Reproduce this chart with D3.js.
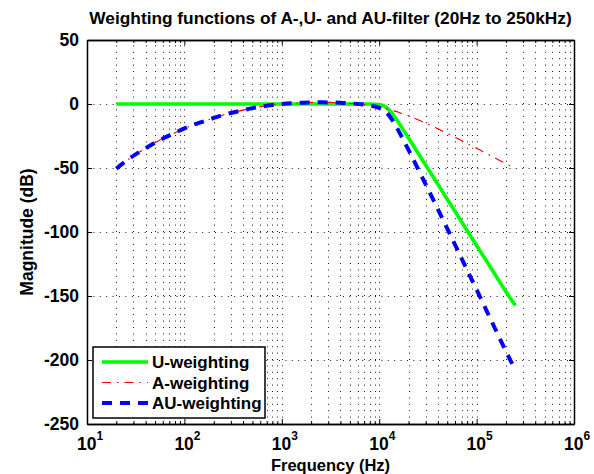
<!DOCTYPE html>
<html>
<head>
<meta charset="utf-8">
<script src="https://cdn.jsdelivr.net/npm/d3@7"></script>
<style>
	body { margin: 0; background: #fff; }
	svg { display: block; }
	text { font-family: "Liberation Sans", Arial, sans-serif; font-weight: bold; fill: #000; }
	.axis path, .axis line { stroke: #000; }
</style>
</head>
<body>
<svg id="chartsvg"></svg>
<script>
// Values (frequency in Hz, magnitude in dB)
var freqHz = [20, 25, 31.5, 40, 50, 63, 80, 100, 125, 160, 200, 250, 315, 400, 500, 630, 800,
	1000, 1250, 1600, 2000, 2500, 3150, 4000, 5000, 6300, 8000, 10000, 11000, 12500, 14000,
	16000, 18000, 20000, 25000, 31500, 40000, 50000, 63000, 80000, 100000, 125000, 160000,
	200000, 250000];

var uWeight = [0, 0, 0, 0, 0, 0, 0, 0, 0, 0, 0, 0, 0, 0, 0, 0, 0,
	0, 0, 0, 0, 0, 0, 0, 0, 0, 0, -0.5, -1.3, -4.2, -8.7,
	-15.1, -21.2, -26.6, -38.3, -50.3, -62.7, -74.4, -86.4, -98.9, -110.5, -122.1, -135.0,
	-146.6, -157.5];

var aWeight = [-50.5, -44.7, -39.4, -34.6, -30.2, -26.2, -22.5, -19.1, -16.1, -13.4, -10.9, -8.6, -6.6, -4.8, -3.2, -1.9, -0.8,
	0, 0.6, 1.0, 1.2, 1.3, 1.2, 1.0, 0.5, -0.1, -1.1, -2.5, -3.2, -4.3, -5.3,
	-6.6, -8.0, -9.3, -12.3, -15.7, -19.4, -23.0, -26.8, -30.9, -34.6, -38.5, -42.8,
	-46.6, -50.5];

var auWeight = [-50.5, -44.7, -39.4, -34.6, -30.2, -26.2, -22.5, -19.1, -16.1, -13.4, -10.9, -8.6, -6.6, -4.8, -3.2, -1.9, -0.8,
	0, 0.6, 1.0, 1.2, 1.3, 1.2, 1.0, 0.5, -0.1, -1.1, -3.0, -4.5, -8.5, -14.0,
	-21.7, -29.2, -35.9, -50.6, -66.0, -82.1, -97.4, -113.2, -129.8, -145.1, -160.6, -177.8,
	-193.2, -208.0];

var yTicks = [50, 0, -50, -100, -150, -200, -250];
var xExponents = [1, 2, 3, 4, 5, 6];
var seriesNames = ["U-weighting", "A-weighting", "AU-weighting"];

var W = 594, H = 474;
var plot = {left: 87, right: 574, top: 40, bottom: 424};

var svg = d3.select("#chartsvg").attr("width", W).attr("height", H);
svg.append("rect").attr("width", W).attr("height", H).attr("fill", "#fff");

var x = d3.scaleLog().domain([10, 1e6]).range([plot.left, plot.right]);
var y = d3.scaleLinear().domain([-250, 50]).range([plot.bottom, plot.top]);

var majorX = xExponents.map(function(e) { return Math.pow(10, e); });
var minorX = [];
xExponents.slice(0, -1).forEach(function(e) {
	for (var m = 2; m <= 9; m++) minorX.push(m * Math.pow(10, e));
});

//Dotted grid: every decade and minor position on x, major ticks on y
var grid = svg.append("g").attr("class", "grid")
	.attr("fill", "none").attr("stroke", "#000").attr("stroke-width", 0.9)
	.attr("stroke-dasharray", "1,5.4");
grid.selectAll("path.vgrid").data(majorX.slice(1, -1).concat(minorX)).enter()
	.append("path").attr("class", "vgrid")
	.attr("d", function(d) { var px = Math.round(x(d)) + 0.5; return "M" + px + "," + plot.bottom + "V" + plot.top; });
grid.selectAll("path.hgrid").data(yTicks.slice(1, -1)).enter()
	.append("path").attr("class", "hgrid")
	.attr("d", function(d) { var py = Math.round(y(d)) + 0.5; return "M" + plot.left + "," + py + "H" + plot.right; });

//Inward ticks on all four sides
function tickAxis(axis, tx, ty) {
	svg.append("g").attr("class", "axis")
		.attr("transform", "translate(" + tx + "," + ty + ")")
		.call(axis)
		.call(function(g) { g.selectAll("text").remove(); g.select(".domain").attr("stroke-width", 1.5); });
}
tickAxis(d3.axisBottom(x).tickValues(majorX).tickSize(-5).tickSizeOuter(0), 0, plot.bottom);
tickAxis(d3.axisBottom(x).tickValues(minorX).tickSize(-3).tickSizeOuter(0), 0, plot.bottom);
tickAxis(d3.axisTop(x).tickValues(majorX).tickSize(-5).tickSizeOuter(0), 0, plot.top);
tickAxis(d3.axisTop(x).tickValues(minorX).tickSize(-3).tickSizeOuter(0), 0, plot.top);
tickAxis(d3.axisLeft(y).tickValues(yTicks).tickSize(-5).tickSizeOuter(0), plot.left, 0);
tickAxis(d3.axisRight(y).tickValues(yTicks).tickSize(-5).tickSizeOuter(0), plot.right, 0);

//Tick labels
svg.append("g").selectAll("text").data(yTicks).enter().append("text")
	.attr("x", plot.left - 8).attr("y", function(d) { return y(d) + 6; })
	.attr("text-anchor", "end").attr("font-size", 17.5)
	.text(function(d) { return String(d); });

var xl = svg.append("g").selectAll("text").data(xExponents).enter().append("text")
	.attr("x", function(d) { return x(Math.pow(10, d)) - 10; })
	.attr("y", 450).attr("font-size", 17.5);
xl.append("tspan").text("10");
xl.append("tspan").attr("dy", -10).attr("font-size", 12).text(function(d) { return d; });

//Curves
var line = d3.line()
	.x(function(d) { return x(d[0]); })
	.y(function(d) { return y(d[1]); })
	.curve(d3.curveMonotoneX);

var styles = [
	{color: "#00ff00", width: 3.6, dash: null},
	{color: "#ff0000", width: 1.2, dash: "9,6,1.5,6"},
	{color: "#0000ff", width: 4, dash: "10,8"}
];
[uWeight, aWeight, auWeight].forEach(function(vals, i) {
	svg.append("path")
		.datum(d3.zip(freqHz, vals))
		.attr("fill", "none")
		.attr("stroke", styles[i].color)
		.attr("stroke-width", styles[i].width)
		.attr("stroke-dasharray", styles[i].dash)
		.attr("d", line);
});

//Title and axis labels
svg.append("text").attr("x", (plot.left + plot.right) / 2).attr("y", 24)
	.attr("text-anchor", "middle").attr("font-size", 17.3)
	.text("Weighting functions of A-,U- and AU-filter (20Hz to 250kHz)");
svg.append("text").attr("x", (plot.left + plot.right) / 2).attr("y", 470.5)
	.attr("text-anchor", "middle").attr("font-size", 16.5)
	.text("Frequency (Hz)");
svg.append("text")
	.attr("transform", "translate(33," + (plot.top + plot.bottom) / 2 + ")rotate(-90)")
	.attr("text-anchor", "middle").attr("font-size", 17.5)
	.text("Magnitude (dB)");

//Legend
var leg = svg.append("g").attr("transform", "translate(93,347)");
leg.append("rect").attr("width", 172).attr("height", 71)
	.attr("fill", "#fff").attr("stroke", "#000").attr("stroke-width", 1.5);
seriesNames.forEach(function(name, i) {
	var ly = 15 + i * 20.5;
	leg.append("line").attr("x1", 9).attr("x2", 55).attr("y1", ly).attr("y2", ly)
		.attr("stroke", styles[i].color).attr("stroke-width", styles[i].width)
		.attr("stroke-dasharray", styles[i].dash);
	leg.append("text").attr("x", 59).attr("y", ly + 6).attr("font-size", 17).text(name);
});
</script>
</body>
</html>
